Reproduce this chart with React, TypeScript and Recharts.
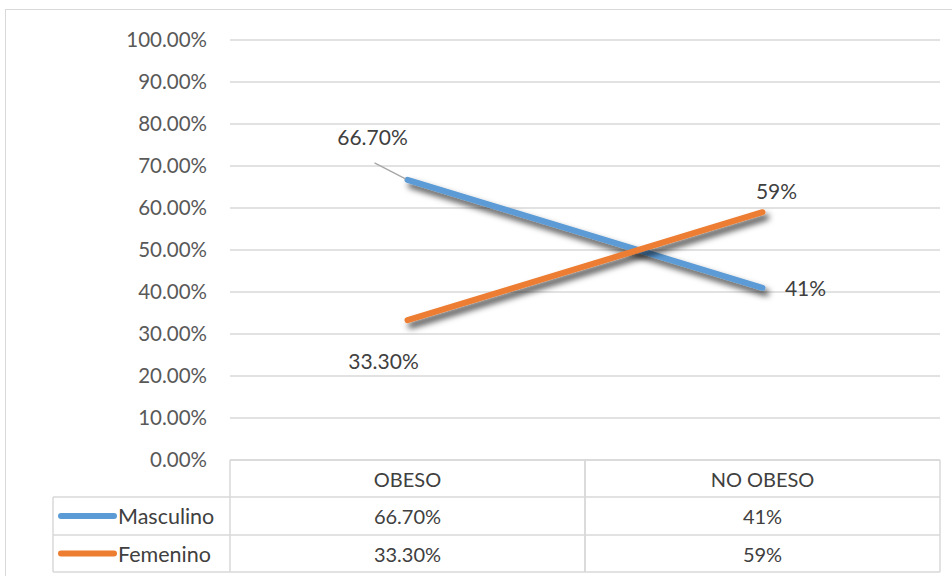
import { CartesianGrid, LabelList, Line, LineChart, XAxis, YAxis } from 'recharts'

const categories = ['OBESO', 'NO OBESO']
const masculino = [0.667, 0.41]
const femenino = [0.333, 0.59]
const masculinoLabels = ['66.70%', '41%']
const femeninoLabels = ['33.30%', '59%']
const yTicks = [0, 0.1, 0.2, 0.3, 0.4, 0.5, 0.6, 0.7, 0.8, 0.9, 1]

const BLUE = '#5B9BD5'
const ORANGE = '#ED7D31'
const GRID = '#D9D9D9'
const AXIS_TEXT = '#595959'
const TEXT = '#404040'
const FONT = 'Lato, "Open Sans", sans-serif'

// layout
const W = 952
const H = 576
const PLOT_LEFT = 230
const PLOT_RIGHT = 940
const PLOT_TOP = 40
const PLOT_BOTTOM = 460
const BAND = (PLOT_RIGHT - PLOT_LEFT) / categories.length
const ROWS = [460, 497, 535, 572]
const TABLE_LEFT = 53

// label offsets from each point, per series
const MASC_OFFSETS = [[-35, -43], [43, 0]]
const FEM_OFFSETS = [[-24, 40], [14, -22]]

const data = categories.map((name, i) => ({ name, masculino: masculino[i], femenino: femenino[i] }))

const series = [
  { name: 'Masculino', color: BLUE, labels: masculinoLabels },
  { name: 'Femenino', color: ORANGE, labels: femeninoLabels },
]

function pct(v: number) {
  return (v * 100).toFixed(2) + '%'
}

function TableTick(props: any) {
  const { x, payload, index } = props
  const left = x - BAND / 2
  const right = x + BAND / 2
  const mid = (a: number, b: number) => (a + b) / 2
  return (
    <g>
      {index === 0 && (
        <g>
          {ROWS.slice(1).map((y) => (
            <line key={y} x1={TABLE_LEFT} x2={left} y1={y} y2={y} stroke={GRID} strokeWidth={1.5} />
          ))}
          <line x1={TABLE_LEFT} x2={TABLE_LEFT} y1={ROWS[1]} y2={ROWS[3]} stroke={GRID} strokeWidth={1.5} />
          {series.map((s, r) => {
            const cy = mid(ROWS[r + 1], ROWS[r + 2])
            return (
              <g key={s.name}>
                <line x1={61} x2={114} y1={cy} y2={cy} stroke={s.color} strokeWidth={6} strokeLinecap="round" />
                <text x={118} y={cy} dominantBaseline="central" fontSize={21.5} fill={TEXT} fontFamily={FONT}>
                  {s.name}
                </text>
              </g>
            )
          })}
        </g>
      )}
      {ROWS.map((y) => (
        <line key={y} x1={left} x2={right} y1={y} y2={y} stroke={GRID} strokeWidth={1.5} />
      ))}
      <line x1={left} x2={left} y1={ROWS[0]} y2={ROWS[3]} stroke={GRID} strokeWidth={1.5} />
      <line x1={right} x2={right} y1={ROWS[0]} y2={ROWS[3]} stroke={GRID} strokeWidth={1.5} />
      <text x={x} y={mid(ROWS[0], ROWS[1])} textAnchor="middle" dominantBaseline="central" fontSize={20} fill={TEXT} fontFamily={FONT}>
        {payload.value}
      </text>
      {series.map((s, r) => (
        <text key={s.name} x={x} y={mid(ROWS[r + 1], ROWS[r + 2])} textAnchor="middle" dominantBaseline="central" fontSize={20} fill={TEXT} fontFamily={FONT}>
          {s.labels[index]}
        </text>
      ))}
    </g>
  )
}

function makeLabel(labels: string[], offsets: number[][], leader: boolean) {
  return (props: any) => {
    const { x, y, index } = props
    const [dx, dy] = offsets[index]
    return (
      <g>
        {leader && index === 0 && (
          <line x1={x - 33} y1={y - 17} x2={x - 2} y2={y - 1} stroke="#A6A6A6" strokeWidth={1.2} />
        )}
        <text x={x + dx} y={y + dy} textAnchor="middle" dominantBaseline="central" fontSize={21} fill={TEXT} fontFamily={FONT}>
          {labels[index]}
        </text>
      </g>
    )
  }
}

export default function App() {
  return (
    <div style={{ position: 'absolute', left: 0, top: 0, width: W, height: H, background: '#fff', overflow: 'hidden' }}>
      {/* chart area border */}
      <div style={{ position: 'absolute', left: 5, top: 9, width: W, height: H, borderTop: `1.5px solid ${GRID}`, borderLeft: `1.5px solid ${GRID}` }} />
      <div style={{ position: 'absolute', left: 0, top: 0 }}>
        <LineChart width={W} height={H} data={data} margin={{ top: PLOT_TOP, right: W - PLOT_RIGHT, bottom: 0, left: 0 }}>
          <defs>
            <filter id="lineShadow" x="-20%" y="-50%" width="140%" height="200%">
              <feDropShadow dx={3.5} dy={5} stdDeviation={3} floodColor="#000" floodOpacity={0.75} />
            </filter>
          </defs>
          <CartesianGrid vertical={false} stroke={GRID} strokeWidth={1.5} />
          <XAxis
            dataKey="name"
            scale="band"
            height={H - PLOT_BOTTOM}
            axisLine={false}
            tickLine={false}
            interval={0}
            tick={<TableTick />}
          />
          <YAxis
            width={PLOT_LEFT}
            domain={[0, 1]}
            ticks={yTicks}
            interval={0}
            tickFormatter={pct}
            axisLine={false}
            tickLine={false}
            tickMargin={17}
            tick={{ fill: AXIS_TEXT, fontSize: 20.5, fontFamily: FONT }}
          />
          <Line
            dataKey="masculino"
            stroke={BLUE}
            strokeWidth={6}
            strokeLinecap="round"
            dot={false}
            filter="url(#lineShadow)"
            isAnimationActive={false}
          >
            <LabelList dataKey="masculino" content={makeLabel(masculinoLabels, MASC_OFFSETS, true)} />
          </Line>
          <Line
            dataKey="femenino"
            stroke={ORANGE}
            strokeWidth={6}
            strokeLinecap="round"
            dot={false}
            filter="url(#lineShadow)"
            isAnimationActive={false}
          >
            <LabelList dataKey="femenino" content={makeLabel(femeninoLabels, FEM_OFFSETS, false)} />
          </Line>
        </LineChart>
      </div>
    </div>
  )
}
